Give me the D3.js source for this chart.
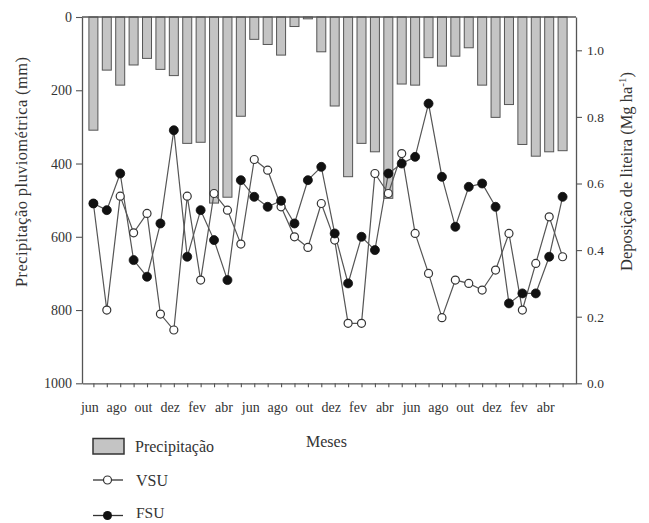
<!DOCTYPE html>
<html><head><meta charset="utf-8">
<script src="https://cdn.jsdelivr.net/npm/d3@7"></script>
<style>
body{margin:0;background:#fff}
svg text{font-family:"Liberation Serif","Times New Roman",serif;fill:#333}
</style>
</head><body>
<svg id="c" width="649" height="523"></svg>
<script>
// ---- data ----
const months = ["jun","jul","ago","set","out","nov","dez","jan","fev","mar","abr","mai",
                "jun","jul","ago","set","out","nov","dez","jan","fev","mar","abr","mai",
                "jun","jul","ago","set","out","nov","dez","jan","fev","mar","abr","mai"];
const xTickLabels = ["jun","ago","out","dez","fev","abr","jun","ago","out","dez","fev","abr","jun","ago","out","dez","fev","abr"];
const precipitacao = [309,145,186,131,113,143,160,345,342,508,492,271,
                      61,75,104,26,5,95,243,436,345,368,495,183,
                      186,111,134,107,84,186,274,239,348,380,368,365];
const vsu = [0.54,0.22,0.562,0.452,0.51,0.208,0.16,0.562,0.31,0.57,0.52,0.418,
             0.672,0.64,0.53,0.44,0.408,0.54,0.43,0.18,0.18,0.63,0.57,0.69,
             0.45,0.33,0.197,0.31,0.30,0.28,0.34,0.45,0.22,0.36,0.50,0.38];
const fsu = [0.54,0.52,0.63,0.37,0.32,0.48,0.76,0.38,0.52,0.43,0.31,0.61,
             0.56,0.53,0.548,0.48,0.61,0.65,0.45,0.30,0.44,0.40,0.63,0.66,
             0.68,0.84,0.62,0.47,0.59,0.60,0.53,0.24,0.27,0.27,0.38,0.56];
const leftTicks = [0,200,400,600,800,1000];
const rightTicks = [0,0.2,0.4,0.6,0.8,1.0];
const legendLabels = ["Precipitação","VSU","FSU"];

// ---- layout ----
const svg = d3.select("#c");
const L = 82, R = 576, T = 17, B = 383.3;
const idx = d3.range(months.length);
const x = d3.scaleLinear().domain([-0.85, months.length]).range([L, R]);
const yP = d3.scaleLinear().domain([0, 1000]).range([T, B]);
const yL = d3.scaleLinear().domain([0, 1.1]).range([B, T]);
const axisColor = "#555";
const font = '"Liberation Serif","Times New Roman",serif';

function styleAxis(g, size) {
  g.attr("font-family", null).attr("font-size", null);
  g.select(".domain").attr("stroke", axisColor).attr("stroke-width", 1.3);
  g.selectAll(".tick line").attr("stroke", axisColor).attr("stroke-width", 1.1);
  g.selectAll("text").style("fill", "#333").style("font-size", size + "px").style("font-family", font);
}

// bars
svg.append("g").selectAll("rect").data(precipitacao).join("rect")
  .attr("x", (d, i) => x(i) - 4.5)
  .attr("y", yP(0))
  .attr("width", 9)
  .attr("height", d => yP(d) - yP(0))
  .attr("fill", "#c4c4c4")
  .attr("stroke", "#555")
  .attr("stroke-width", 1);

// top line
svg.append("line").attr("x1", L).attr("x2", R).attr("y1", T).attr("y2", T)
  .attr("stroke", axisColor).attr("stroke-width", 1.3);

// lines
const line = d3.line().x((d, i) => x(i)).y(d => yL(d));
svg.append("path").datum(vsu).attr("d", line).attr("fill", "none").attr("stroke", "#555").attr("stroke-width", 1.2);
svg.append("path").datum(fsu).attr("d", line).attr("fill", "none").attr("stroke", "#555").attr("stroke-width", 1.2);

svg.append("g").selectAll("circle").data(vsu).join("circle")
  .attr("cx", (d, i) => x(i)).attr("cy", d => yL(d)).attr("r", 4)
  .attr("fill", "#fff").attr("stroke", "#333").attr("stroke-width", 1.2);
svg.append("g").selectAll("circle").data(fsu).join("circle")
  .attr("cx", (d, i) => x(i)).attr("cy", d => yL(d)).attr("r", 4.5)
  .attr("fill", "#111").attr("stroke", "#111").attr("stroke-width", 0.8);

// axes
const gl = svg.append("g").attr("transform", `translate(${L},0)`)
  .call(d3.axisLeft(yP).tickValues(leftTicks).tickFormat(d3.format("d")).tickSize(6).tickSizeOuter(0).tickPadding(4));
styleAxis(gl, 14);

const gr = svg.append("g").attr("transform", `translate(${R},0)`)
  .call(d3.axisRight(yL).tickValues(rightTicks).tickFormat(d3.format(".1f")).tickSize(6).tickSizeOuter(0).tickPadding(5));
styleAxis(gr, 13.5);

const gb = svg.append("g").attr("transform", `translate(0,${B})`)
  .call(d3.axisBottom(x).tickValues(idx).tickFormat("").tickSize(4).tickSizeOuter(0));
styleAxis(gb, 14);

const gbl = svg.append("g").attr("transform", `translate(0,${B})`)
  .call(d3.axisBottom(x).tickValues(d3.range(0, months.length, 2)).tickFormat((d, i) => xTickLabels[i]).tickSize(0));
gbl.select(".domain").remove();
styleAxis(gbl, 14);
gbl.selectAll("text").attr("y", 28.3).attr("dy", null).attr("x", -4);

// axis titles
svg.append("text").attr("transform", "translate(27,172) rotate(-90)")
  .attr("text-anchor", "middle").style("font-size", "16.5px")
  .attr("textLength", 230).attr("lengthAdjust", "spacing")
  .text("Precipitação pluviométrica (mm)");

const rt = svg.append("text").attr("transform", "translate(632,171.5) rotate(-90)")
  .attr("text-anchor", "middle").style("font-size", "16.5px");
rt.append("tspan").text("Deposição de liteira (Mg ha");
rt.append("tspan").attr("baseline-shift", "super").style("font-size", "11px").text("-1");
rt.append("tspan").text(")");

svg.append("text").attr("x", 306).attr("y", 447).style("font-size", "16px").text("Meses");

// legend
const lg = svg.append("g");
lg.append("rect").attr("x", 93).attr("y", 438.5).attr("width", 31).attr("height", 15.5)
  .attr("fill", "#c4c4c4").attr("stroke", "#333").attr("stroke-width", 1.5);
lg.append("text").attr("x", 135).attr("y", 452).style("font-size", "16px").text(legendLabels[0]);

lg.append("line").attr("x1", 93).attr("x2", 123).attr("y1", 480).attr("y2", 480).attr("stroke", "#333").attr("stroke-width", 1.3);
lg.append("circle").attr("cx", 107.5).attr("cy", 480).attr("r", 4).attr("fill", "#fff").attr("stroke", "#333").attr("stroke-width", 1.2);
lg.append("text").attr("x", 136).attr("y", 486).style("font-size", "16px").text(legendLabels[1]);

lg.append("line").attr("x1", 93).attr("x2", 123).attr("y1", 515.5).attr("y2", 515.5).attr("stroke", "#333").attr("stroke-width", 1.3);
lg.append("circle").attr("cx", 107.5).attr("cy", 515.5).attr("r", 4.5).attr("fill", "#111");
lg.append("text").attr("x", 136).attr("y", 518).style("font-size", "15.5px").text(legendLabels[2]);
</script>
</body></html>
